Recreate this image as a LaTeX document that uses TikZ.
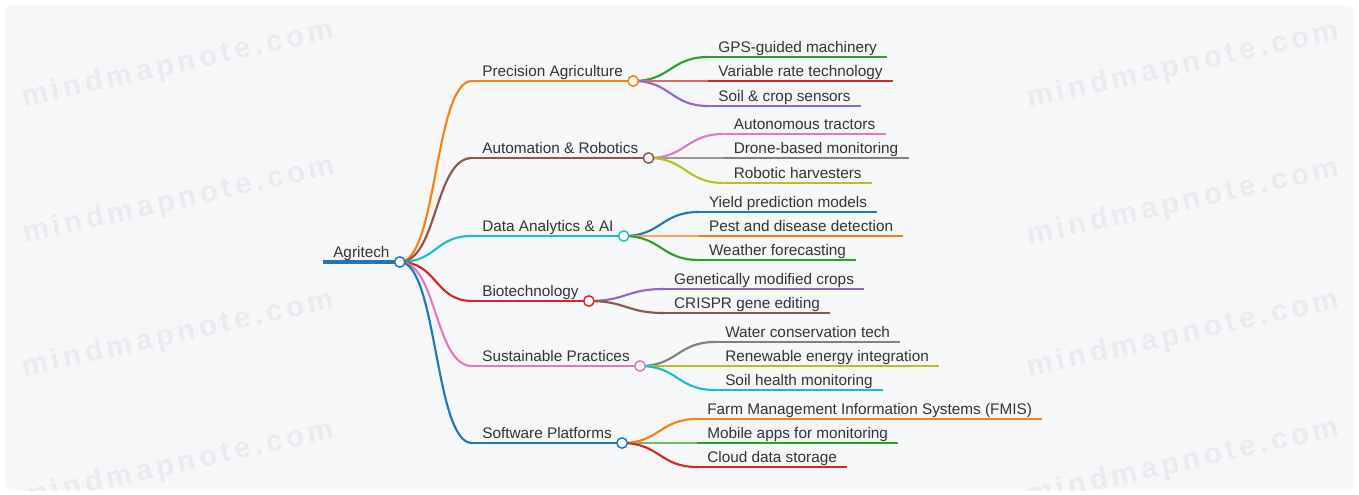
\documentclass[tikz,border=0pt]{standalone}
\usepackage{fontspec}
\setmainfont{Liberation Sans}
\newfontfamily\stampfont[LetterSpace=14]{Liberation Sans}
\usepackage{xcolor}
\usepackage{tikz}
\usetikzlibrary{calc}

\definecolor{cblue}{HTML}{1F77B4}
\definecolor{corange}{HTML}{FF7F0E}
\definecolor{cgreen}{HTML}{2CA02C}
\definecolor{cred}{HTML}{D62728}
\definecolor{cpurple}{HTML}{9467BD}
\definecolor{cbrown}{HTML}{8C564B}
\definecolor{cpink}{HTML}{E377C2}
\definecolor{cgray}{HTML}{7F7F7F}
\definecolor{colive}{HTML}{BCBD22}
\definecolor{ccyan}{HTML}{17BECF}
\definecolor{ink}{HTML}{333333}
\definecolor{paper}{HTML}{F6F7F9}
\definecolor{stamp}{HTML}{EAEBEE}

% S-shaped link between two anchors
\newcommand{\curvelink}[3]{\draw[link, #1] (#2) .. controls +(37.5,0) and +(-37.5,0) .. (#3);}

\begin{document}
\begin{tikzpicture}[
    x=0.75pt, y=-0.75pt,
    topic/.style={anchor=south west, text=ink, font=\fontsize{11.5}{13}\selectfont,
      inner xsep=7.5pt, inner ysep=0.6pt, text height=8.4pt, text depth=2.8pt},
    link/.style={line width=1.6pt},
    dot/.style={circle, draw, fill=white, line width=1.1pt, inner sep=0pt, minimum size=7.8pt},
    watermark/.style={text=stamp, font=\stampfont\fontsize{22}{26}\selectfont\bfseries, rotate=12.5}
  ]
    \useasboundingbox (0,0) rectangle (1359,495);
    \fill[paper, rounded corners=6pt] (5,5) rectangle (1354,490);

    % faint site stamps
    \begin{scope}
      \clip[rounded corners=6pt] (5,5) rectangle (1354,490);
      \foreach \i/\x/\y in {1/178/65, 2/179/201, 3/178/335, 4/178/465,
                            5/1183/66, 6/1183/203, 7/1183/335, 8/1183/463}
        \node[watermark] (wm-\i) at (\x,\y) {mindmapnote.com};
    \end{scope}

    % centre
    \node[topic] (root) at (323,262) {Agritech};
    \draw[line width=2.6pt, cblue] (root.south west) -- (root.south east);

    % main branches
    \node[topic] (pa) at (472,81) {Precision Agriculture};
    \node[topic] (ar) at (472,158) {Automation \& Robotics};
    \node[topic] (da) at (472,236) {Data Analytics \& AI};
    \node[topic] (bt) at (472,301) {Biotechnology};
    \node[topic] (sp) at (472,366) {Sustainable Practices};
    \node[topic] (sw) at (472,443) {Software Platforms};

    \curvelink{corange}{root.south east}{pa.south west}
    \curvelink{cbrown}{root.south east}{ar.south west}
    \curvelink{ccyan}{root.south east}{da.south west}
    \curvelink{cred}{root.south east}{bt.south west}
    \curvelink{cpink}{root.south east}{sp.south west}
    \curvelink{cblue}{root.south east}{sw.south west}
    \draw[link, corange] (pa.south west) -- (pa.south east);
    \draw[link, cbrown] (ar.south west) -- (ar.south east);
    \draw[link, ccyan] (da.south west) -- (da.south east);
    \draw[link, cred] (bt.south west) -- (bt.south east);
    \draw[link, cpink] (sp.south west) -- (sp.south east);
    \draw[link, cblue] (sw.south west) -- (sw.south east);

    % precision agriculture
    \node[topic] (pa1) at ($(pa.south east)+(75,-24)$) {GPS-guided machinery};
    \node[topic] (pa2) at ($(pa.south east)+(75,0)$) {Variable rate technology};
    \node[topic] (pa3) at ($(pa.south east)+(75,25)$) {Soil \& crop sensors};
    \curvelink{cgreen}{pa.south east}{pa1.south west}
    \curvelink{cred!70}{pa.south east}{pa2.south west}
    \curvelink{cpurple}{pa.south east}{pa3.south west}
    \draw[link, cgreen] (pa1.south west) -- (pa1.south east);
    \draw[link, cred] (pa2.south west) -- (pa2.south east);
    \draw[link, cpurple] (pa3.south west) -- (pa3.south east);

    % automation & robotics
    \node[topic] (ar1) at ($(ar.south east)+(75,-24)$) {Autonomous tractors};
    \node[topic] (ar2) at ($(ar.south east)+(75,0)$) {Drone-based monitoring};
    \node[topic] (ar3) at ($(ar.south east)+(75,25)$) {Robotic harvesters};
    \curvelink{cpink}{ar.south east}{ar1.south west}
    \curvelink{cgray!80}{ar.south east}{ar2.south west}
    \curvelink{colive}{ar.south east}{ar3.south west}
    \draw[link, cpink] (ar1.south west) -- (ar1.south east);
    \draw[link, cgray] (ar2.south west) -- (ar2.south east);
    \draw[link, colive] (ar3.south west) -- (ar3.south east);

    % data analytics & ai
    \node[topic] (da1) at ($(da.south east)+(75,-24)$) {Yield prediction models};
    \node[topic] (da2) at ($(da.south east)+(75,0)$) {Pest and disease detection};
    \node[topic] (da3) at ($(da.south east)+(75,24)$) {Weather forecasting};
    \curvelink{cblue}{da.south east}{da1.south west}
    \curvelink{corange!70}{da.south east}{da2.south west}
    \curvelink{cgreen}{da.south east}{da3.south west}
    \draw[link, cblue] (da1.south west) -- (da1.south east);
    \draw[link, corange] (da2.south west) -- (da2.south east);
    \draw[link, cgreen] (da3.south west) -- (da3.south east);

    % biotechnology
    \node[topic] (bt1) at ($(bt.south east)+(75,-12)$) {Genetically modified crops};
    \node[topic] (bt2) at ($(bt.south east)+(75,12)$) {CRISPR gene editing};
    \curvelink{cpurple}{bt.south east}{bt1.south west}
    \curvelink{cbrown}{bt.south east}{bt2.south west}
    \draw[link, cpurple] (bt1.south west) -- (bt1.south east);
    \draw[link, cbrown] (bt2.south west) -- (bt2.south east);

    % sustainable practices
    \node[topic] (sp1) at ($(sp.south east)+(75,-24)$) {Water conservation tech};
    \node[topic] (sp2) at ($(sp.south east)+(75,0)$) {Renewable energy integration};
    \node[topic] (sp3) at ($(sp.south east)+(75,24)$) {Soil health monitoring};
    \curvelink{cgray}{sp.south east}{sp1.south west}
    \curvelink{colive}{sp.south east}{sp2.south west}
    \curvelink{ccyan}{sp.south east}{sp3.south west}
    \draw[link, cgray] (sp1.south west) -- (sp1.south east);
    \draw[link, colive] (sp2.south west) -- (sp2.south east);
    \draw[link, ccyan] (sp3.south west) -- (sp3.south east);

    % software platforms
    \node[topic] (sw1) at ($(sw.south east)+(75,-24)$) {Farm Management Information Systems (FMIS)};
    \node[topic] (sw2) at ($(sw.south east)+(75,0)$) {Mobile apps for monitoring};
    \node[topic] (sw3) at ($(sw.south east)+(75,24)$) {Cloud data storage};
    \curvelink{corange}{sw.south east}{sw1.south west}
    \curvelink{cgreen!70}{sw.south east}{sw2.south west}
    \curvelink{cred}{sw.south east}{sw3.south west}
    \draw[link, corange] (sw1.south west) -- (sw1.south east);
    \draw[link, cgreen] (sw2.south west) -- (sw2.south east);
    \draw[link, cred] (sw3.south west) -- (sw3.south east);

    % knobs on top
    \node[dot, draw=cblue] (root-dot) at (root.south east) {};
    \node[dot, draw=corange] (pa-dot) at (pa.south east) {};
    \node[dot, draw=cbrown] (ar-dot) at (ar.south east) {};
    \node[dot, draw=ccyan] (da-dot) at (da.south east) {};
    \node[dot, draw=cred] (bt-dot) at (bt.south east) {};
    \node[dot, draw=cpink] (sp-dot) at (sp.south east) {};
    \node[dot, draw=cblue] (sw-dot) at (sw.south east) {};
  \end{tikzpicture}
\end{document}
